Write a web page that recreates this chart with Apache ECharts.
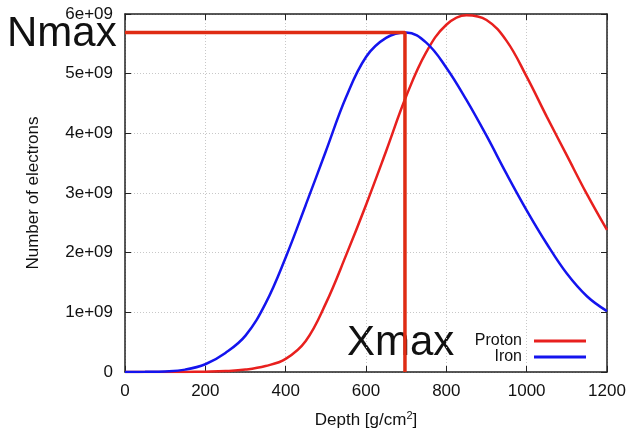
<!DOCTYPE html>
<html>
<head>
<meta charset="utf-8">
<script src="https://cdn.jsdelivr.net/npm/echarts@6/dist/echarts.min.js"></script>
<style>
  html, body { margin: 0; padding: 0; background: #fff; }
  #chart { width: 631px; height: 428px; }
</style>
</head>
<body>
<div id="chart"></div>
<script>
// Longitudinal shower profiles: number of electrons vs atmospheric depth
const depth = [0, 50, 100, 150, 200, 250, 300, 350, 400, 450, 500, 550, 600,
               650, 700, 750, 800, 850, 900, 950, 1000, 1050, 1100, 1150, 1200];
const proton = [0, 0, 0, 0.002e9, 0.006e9, 0.015e9, 0.04e9, 0.1e9, 0.22e9, 0.52e9, 1.15e9, 1.95e9, 2.8e9,
                3.7e9, 4.62e9, 5.36e9, 5.82e9, 5.98e9, 5.9e9, 5.55e9, 4.95e9, 4.28e9, 3.63e9, 2.98e9, 2.38e9];
const iron = [0, 0.003e9, 0.01e9, 0.04e9, 0.13e9, 0.32e9, 0.61e9, 1.15e9, 1.92e9, 2.8e9, 3.7e9, 4.6e9, 5.28e9,
              5.6e9, 5.69e9, 5.52e9, 5.1e9, 4.56e9, 3.96e9, 3.32e9, 2.71e9, 2.15e9, 1.65e9, 1.27e9, 1.02e9];

// Shower maximum of the iron profile
const xmax = 697;
const nmax = 5.69e9;

const xTicks = { min: 0, max: 1200, interval: 200 };
const yTicks = { min: 0, max: 6e9, interval: 1e9 };

const FONT = '"Liberation Sans", Arial, sans-serif';
const chart = echarts.init(document.getElementById('chart'), null, { renderer: 'canvas' });

const tickStyle = { show: true, inside: true, length: 6, lineStyle: { color: '#222', width: 1 } };
const gridLine = { show: true, lineStyle: { color: '#c8c8c8', type: [1, 2], width: 1 } };
const frame = { show: true, onZero: false, lineStyle: { color: '#222', width: 1.5 } };

chart.setOption({
  animation: false,
  backgroundColor: '#fff',
  grid: { left: 125, top: 14, width: 482, height: 358, outerBoundsMode: 'none', containLabel: false },
  xAxis: [
    {
      type: 'value', position: 'bottom', ...xTicks,
      axisLine: frame, axisTick: tickStyle, splitLine: gridLine,
      axisLabel: { color: '#111', fontSize: 17, fontFamily: FONT, margin: 11, formatter: v => String(v) },
      name: '{a|Depth [g/cm}{s|2}{a|]}', nameLocation: 'middle', nameGap: 38,
      nameTextStyle: {
        rich: {
          a: { fontSize: 17, fontFamily: FONT, color: '#111' },
          s: { fontSize: 11, fontFamily: FONT, color: '#111', verticalAlign: 'top', padding: [0, 0, 9, 0] }
        }
      }
    },
    {
      type: 'value', position: 'top', ...xTicks,
      axisLine: frame, axisTick: tickStyle, splitLine: { show: false },
      axisLabel: { show: false }
    }
  ],
  yAxis: [
    {
      type: 'value', position: 'left', ...yTicks,
      axisLine: frame, axisTick: tickStyle, splitLine: gridLine,
      axisLabel: {
        color: '#111', fontSize: 17, fontFamily: FONT, margin: 12,
        formatter: v => v === 0 ? '0' : (v / 1e9) + 'e+09'
      },
      name: 'Number of electrons', nameLocation: 'middle', nameGap: 83,
      nameTextStyle: { fontSize: 17, fontFamily: FONT, color: '#111' }
    },
    {
      type: 'value', position: 'right', ...yTicks,
      axisLine: frame, axisTick: tickStyle, splitLine: { show: false },
      axisLabel: { show: false }
    }
  ],
  legend: {
    data: ['Proton', 'Iron'],
    orient: 'vertical', right: 40, top: 328, align: 'right',
    itemWidth: 52, itemHeight: 3, itemGap: 0, icon: 'rect',
    textStyle: { fontSize: 16, fontFamily: FONT, color: '#111', padding: [0, 7, 0, 0] }
  },
  series: [
    {
      name: 'Proton', type: 'line', smooth: 0.4, showSymbol: false,
      data: depth.map((d, i) => [d, proton[i]]),
      lineStyle: { color: '#e8201e', width: 2.5 }, itemStyle: { color: '#e8201e' }
    },
    {
      name: 'Iron', type: 'line', smooth: 0.4, showSymbol: false,
      data: depth.map((d, i) => [d, iron[i]]),
      lineStyle: { color: '#1414ee', width: 2.5 }, itemStyle: { color: '#1414ee' }
    },
    {
      name: 'max', type: 'line', showSymbol: false, silent: true, z: 3,
      data: [[0, nmax], [xmax, nmax], [xmax, 0]],
      lineStyle: { color: '#df2c14', width: 3.5 }
    }
  ],
  graphic: [
    { type: 'text', left: 7, top: 13, style: { text: 'Nmax', fontSize: 42, fontFamily: FONT, fill: '#111' } },
    { type: 'text', left: 347, top: 322, style: { text: 'Xmax', fontSize: 42, fontFamily: FONT, fill: '#111' } }
  ]
});
</script>
</body>
</html>
